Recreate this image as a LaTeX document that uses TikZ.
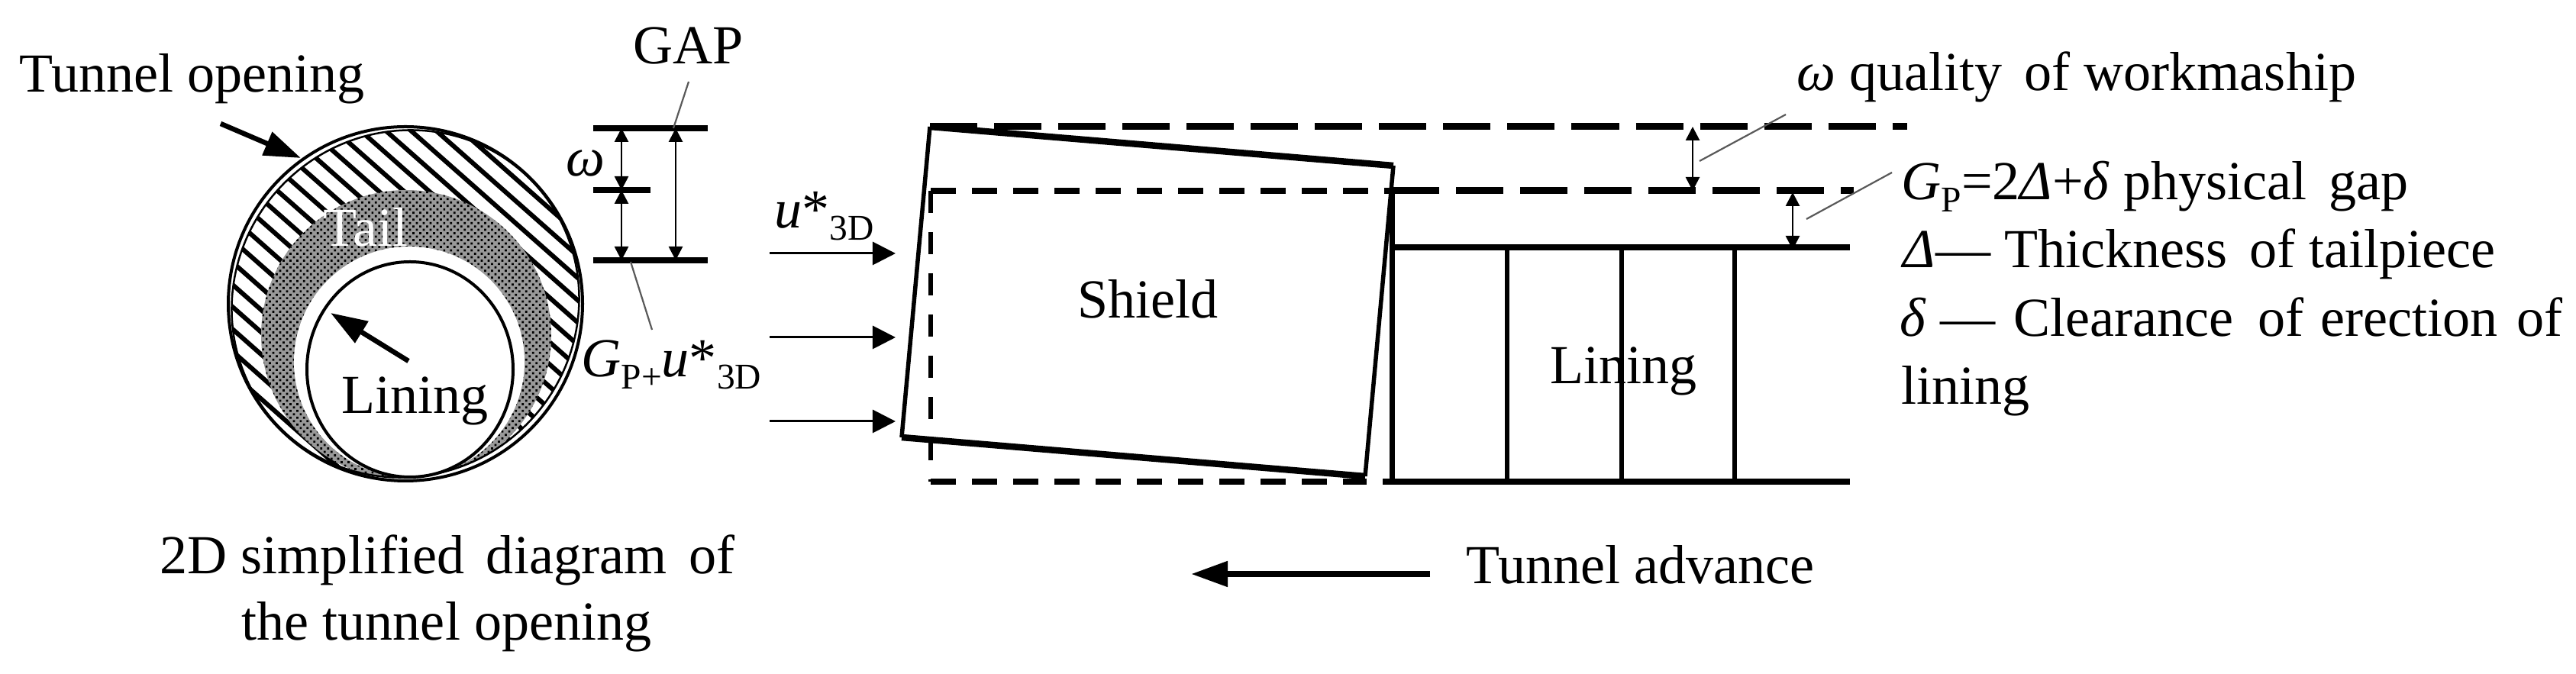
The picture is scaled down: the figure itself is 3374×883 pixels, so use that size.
\documentclass[tikz,border=0pt]{standalone}
\usepackage{fontspec}
\setmainfont{Liberation Serif}
\usetikzlibrary{arrows.meta,patterns.meta}
\newcommand{\subtxt}[1]{{\fontsize{13.5}{15}\selectfont\raisebox{-4.5pt}{#1}}}
\tikzset{
    txtlabel/.style={anchor=base west,inner sep=0pt,font=\fontsize{20.5}{24}\selectfont},
    leaderline/.style={draw=black!65,line width=0.022cm},
    dimarrow/.style={line width=0.028cm,{Triangle[length=0.18cm,width=0.18cm]}-{Triangle[length=0.18cm,width=0.18cm]}},
    bigarrow/.style={line width=0.065cm,-{Triangle[length=0.48cm,width=0.32cm]}},
    loadarrow/.style={line width=0.03cm,-{Triangle[length=0.3cm,width=0.3cm]}},
    dimbar/.style={line width=0.075cm},
    longdash/.style={line width=0.09cm,dash pattern=on 0.62cm off 0.22cm},
    shortdash/.style={line width=0.08cm,dash pattern=on 0.33cm off 0.21cm}
}
\begin{document}
\begin{tikzpicture}[x=0.01cm,y=-0.01cm]
    \useasboundingbox (0,0) rectangle (3374,883);
    \begin{scope}
        \clip[rotate around={45:(531,398)}] (531,398) ellipse [x radius=231,y radius=224];
        \foreach \i in {-14,...,14} {
            \draw[line width=0.06cm] (531+\i*33-300,398-265) -- (531+\i*33+300,398+265);
        }
        \fill[black!40] (532,439) circle [radius=190];
        \fill[pattern={Dots[distance=1.8pt,radius=0.55pt,angle=45]}] (532,439) circle [radius=190];
        \fill[white] (536,474) circle [radius=151];
    \end{scope}
    \draw[line width=0.04cm] (531,398) circle [radius=232];
    \draw[line width=0.025cm,rotate around={45:(531,398)}] (531,398) ellipse [x radius=231,y radius=224];
    \draw[line width=0.04cm] (537,484) circle [x radius=135,y radius=141];
    \node[txtlabel,text=white] (tail) at (423,323) {Tail};
    \node[txtlabel] (lininglabel) at (447,542) {Lining};
    \node[txtlabel] (opening) at (25,121) {Tunnel opening};
    \node[txtlabel] (gap) at (829,84) {GAP};
    \node[txtlabel] (omegaleft) at (741,231) {\textit{ω}};
    \node[txtlabel] (gapsum) at (761,494) {\textit{G}\subtxt{P+}\textit{u}*\subtxt{3D}};
    \node[txtlabel] (captionone) at (209,752) {2D simplified\hspace{0.15em} diagram\hspace{0.15em} of};
    \node[txtlabel] (captiontwo) at (316,839) {the tunnel opening};
    \coordinate (openingtail) at (289,162);
    \coordinate (openinghead) at (394,207);
    \coordinate (liningtail) at (535,473);
    \coordinate (lininghead) at (433,410);
    \draw[bigarrow] (openingtail) -- (openinghead);
    \draw[bigarrow] (liningtail) -- (lininghead);
    \coordinate (bartop) at (814,168);
    \coordinate (barmid) at (814,249);
    \coordinate (barlow) at (814,341);
    \coordinate (bartopb) at (885,168);
    \coordinate (barlowb) at (885,341);
    \draw[dimbar] (777,168) -- (927,168);
    \draw[dimbar] (777,249) -- (852,249);
    \draw[dimbar] (777,341) -- (927,341);
    \draw[dimarrow] (bartop) -- (barmid);
    \draw[dimarrow] (barmid) -- (barlow);
    \draw[dimarrow] (bartopb) -- (barlowb);
    \coordinate (gapfoot) at (882,168);
    \coordinate (gaptip) at (902,107);
    \coordinate (sumfoot) at (826,343);
    \coordinate (sumtip) at (854,432);
    \draw[leaderline] (gaptip) -- (gapfoot);
    \draw[leaderline] (sumfoot) -- (sumtip);
    \node[txtlabel] (ulabel) at (1014,299) {\textit{u}*\subtxt{3D}};
    \coordinate (loadone) at (1008,332);
    \coordinate (loadtwo) at (1008,442);
    \coordinate (loadthree) at (1008,552);
    \coordinate (loadonetip) at (1173,332);
    \coordinate (loadtwotip) at (1173,442);
    \coordinate (loadthreetip) at (1173,552);
    \draw[loadarrow] (loadone) -- (loadonetip);
    \draw[loadarrow] (loadtwo) -- (loadtwotip);
    \draw[loadarrow] (loadthree) -- (loadthreetip);
    \draw[longdash] (1218,166) -- (2498,166);
    \draw[shortdash] (1219,250) -- (1823,250);
    \draw[longdash] (1823,250) -- (2428,250);
    \draw[line width=0.055cm,dash pattern=on 0.29cm off 0.25cm] (1219,250) -- (1219,631);
    \draw[shortdash] (1219,631) -- (1790,631);
    \draw[line width=0.085cm] (1218,166) -- (1825,217);
    \draw[line width=0.085cm] (1181,573) -- (1788,624);
    \draw[line width=0.055cm] (1218,166) -- (1181,573);
    \draw[line width=0.055cm] (1825,217) -- (1788,624);
    \node[txtlabel] (shield) at (1411,417) {Shield};
    \draw[line width=0.07cm] (1823,250) -- (1823,631);
    \draw[line width=0.08cm] (1823,324) -- (2423,324);
    \draw[line width=0.08cm] (1811,631) -- (2423,631);
    \draw[line width=0.055cm] (1974,324) -- (1974,631);
    \draw[line width=0.055cm] (2124,324) -- (2124,631);
    \draw[line width=0.055cm] (2272,324) -- (2272,631);
    \node[txtlabel] (liningside) at (2030,503) {Lining};
    \coordinate (wtop) at (2217,166);
    \coordinate (wlow) at (2217,250);
    \coordinate (gptop) at (2348,252);
    \coordinate (gplow) at (2348,327);
    \draw[dimarrow] (wtop) -- (wlow);
    \draw[dimarrow] (gptop) -- (gplow);
    \coordinate (wleadlow) at (2226,211);
    \coordinate (wleadtip) at (2339,150);
    \coordinate (gpleadlow) at (2366,287);
    \coordinate (gpleadtip) at (2478,226);
    \draw[leaderline] (wleadlow) -- (wleadtip);
    \draw[leaderline] (gpleadlow) -- (gpleadtip);
    \node[txtlabel] (quality) at (2353,119) {\textit{ω} quality\hspace{0.15em} of workmaship};
    \node[txtlabel] (physical) at (2490,262) {\textit{G}\subtxt{P}=2\textit{Δ}+\textit{δ} physical\hspace{0.15em} gap};
    \node[txtlabel] (thickness) at (2492,351) {\textit{Δ}— Thickness\hspace{0.15em} of tailpiece};
    \node[txtlabel] (clearance) at (2488,441) {\textit{δ} —\hspace{0.08em} Clearance\hspace{0.2em} of\hspace{0.05em} erection\hspace{0.1em} of};
    \node[txtlabel] (liningend) at (2490,530) {lining};
    \node[txtlabel] (advance) at (1920,765) {Tunnel advance};
    \coordinate (advancetail) at (1873,752);
    \coordinate (advancehead) at (1560,752);
    \draw[bigarrow,line width=0.08cm] (advancetail) -- (advancehead);
\end{tikzpicture}
\end{document}
